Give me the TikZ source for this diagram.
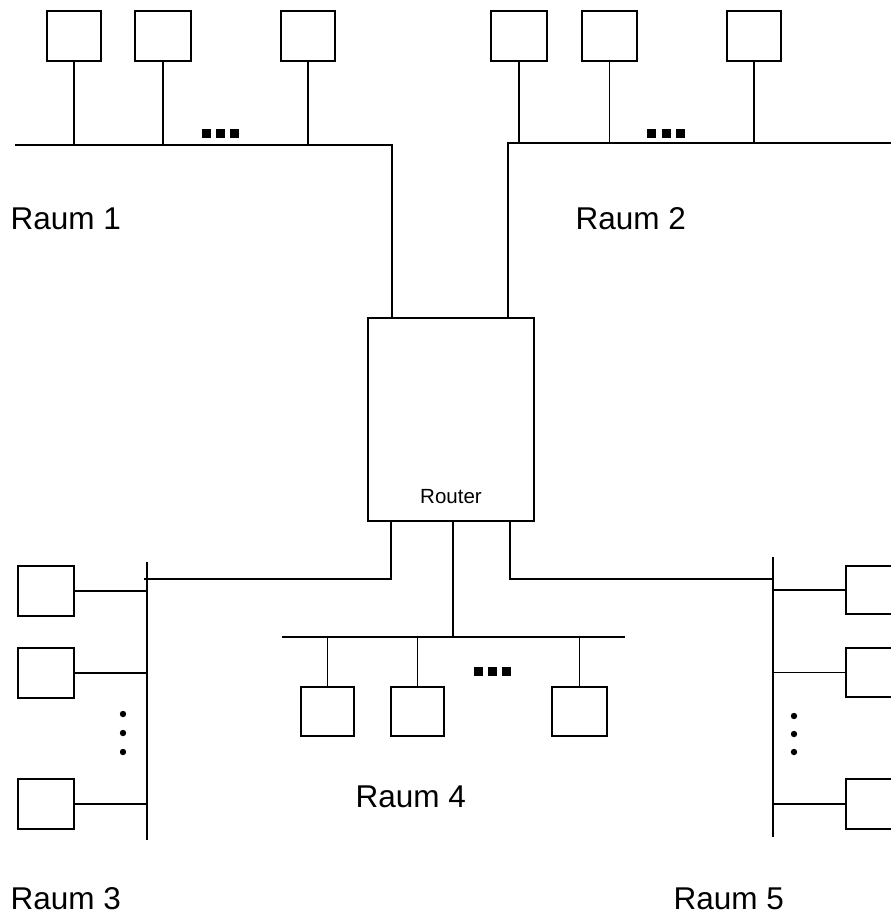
\documentclass[tikz,border=0pt]{standalone}
\usepackage{fontspec}
\setmainfont{Liberation Sans}
\usetikzlibrary{positioning,calc}

\begin{document}
\begin{tikzpicture}[x=1pt,y=-1pt,line width=1.1pt,
  pc/.style={draw,minimum width=54pt,minimum height=50pt,inner sep=0pt},
  raum/.style={font=\fontsize{31.5}{36}\selectfont,anchor=base west,inner sep=0pt},
  sqdot/.style={fill=black,draw=none},
  rddot/.style={fill=black,draw=none}]
\useasboundingbox (0,0) rectangle (891,922);

% Router
\node[draw,minimum width=166pt,minimum height=203pt] (router) at (451,419.5) {};
\node[font=\fontsize{20.5}{24}\selectfont,above=13.5pt of router.south] (rtext) {Router};

% Raum 1
\node[pc] (a1) at (74,36) {};
\node[pc,minimum width=56pt] (a2) at (163,36) {};
\node[pc] (a3) at (308,36) {};
\coordinate (bus1w) at (15,145);
\coordinate (bus1e) at (392,145);
\draw (bus1w) -- (bus1e) -- ([yshift=-2pt]router.north -| bus1e);
\foreach \n in {a1,a2,a3} \draw (\n.south) -- (\n.south |- bus1e);
\foreach \x in {202,216,230} \fill[sqdot] (\x,129) rectangle ++(8.5,8.5);
\node[raum] (r1) at (10,229) {Raum 1};

% Raum 2
\node[pc,minimum width=56pt] (b1) at (519,36) {};
\node[pc,minimum width=55pt] (b2) at (609.5,36) {};
\node[pc] (b3) at (754,36) {};
\coordinate (bus2w) at (508,143);
\coordinate (bus2e) at (891,143);
\draw (bus2e) -- (bus2w) -- ([yshift=-2pt]router.north -| bus2w);
\foreach \n in {b1,b2,b3} \draw (\n.south) -- (\n.south |- bus2w);
\foreach \x in {647,661.5,676} \fill[sqdot] (\x,129) rectangle ++(9,9);
\node[raum] (r2) at (575,229) {Raum 2};

% Raum 3
\coordinate (bus3n) at (147,562);
\coordinate (bus3s) at (147,840);
\coordinate (knee3) at (391,579);
\draw (bus3n) -- (bus3s);
\draw (router.south -| knee3) -- (knee3) -- (144,579);
\node[pc,minimum width=56pt] (c1) at (46,591) {};
\node[pc,minimum width=56pt] (c2) at (46,673) {};
\node[pc,minimum width=56pt] (c3) at (46,804) {};
\foreach \n in {c1,c2,c3} \draw (\n.east) -- (\n.east -| bus3n);
\foreach \y in {714,733,752} \fill[rddot] (123,\y) circle (3.2pt);
\node[raum] (r3) at (10,909) {Raum 3};

% Raum 4
\coordinate (bus4w) at (282,637);
\coordinate (bus4e) at (625,637);
\draw (bus4w) -- (bus4e);
\draw (router.south -| 453,0) -- (453,637);
\node[pc,minimum width=53pt,minimum height=49pt] (d1) at (327.5,711.5) {};
\node[pc,minimum width=53pt,minimum height=49pt] (d2) at (417.5,711.5) {};
\node[pc,minimum width=55pt,minimum height=49pt] (d3) at (579.5,711.5) {};
\foreach \n in {d1,d2,d3} \draw (\n.north) -- (\n.north |- bus4w);
\foreach \x in {474,488,502} \fill[sqdot] (\x,667) rectangle ++(9,8.5);
\node[raum] (r4) at (355,807) {Raum 4};

% Raum 5
\coordinate (bus5n) at (773,557);
\coordinate (bus5s) at (773,837);
\coordinate (knee5) at (510,579);
\draw (bus5n) -- (bus5s);
\draw (router.south -| knee5) -- (knee5) -- (knee5 -| bus5n);
\node[pc,minimum width=56pt,minimum height=48pt] (e1) at (874,590) {};
\node[pc,minimum width=56pt,minimum height=49pt] (e2) at (874,672.5) {};
\node[pc,minimum width=56pt] (e3) at (874,804) {};
\foreach \n in {e1,e2,e3} \draw (\n.west) -- (\n.west -| bus5n);
\foreach \y in {716,734,752} \fill[rddot] (794,\y) circle (3.2pt);
\node[raum] (r5) at (673,909) {Raum 5};
\end{tikzpicture}
\end{document}
